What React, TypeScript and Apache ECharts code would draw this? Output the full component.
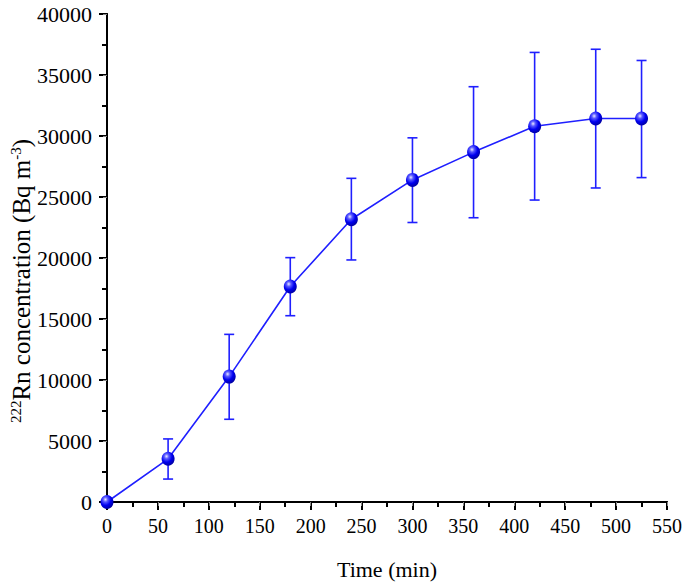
import React, { useEffect, useRef } from "react";
import * as echarts from "echarts";

const times = [0, 60, 120, 180, 240, 300, 360, 420, 480, 525];
const concentration = [0, 3540, 10280, 17660, 23180, 26400, 28680, 30800, 31430, 31430];
const errLow = [0, 1880, 6780, 15270, 19840, 22910, 23300, 24750, 25740, 26590];
const errHigh = [0, 5170, 13740, 20030, 26530, 29850, 34040, 36850, 37110, 36190];

const FONT = "Liberation Serif";
const BLUE = "#1f1fff";

export default function App() {
  const ref = useRef<HTMLDivElement>(null);
  useEffect(() => {
    if (!ref.current) return;
    const chart = echarts.init(ref.current, null, { renderer: "svg" });
    const lineData = times.map((t, i) => [t, concentration[i]]);
    const errData = times
      .map((t, i) => [t, errLow[i], errHigh[i]])
      .filter((d) => d[2] > d[1]);
    const axisCommon = {
      axisLine: { show: true, lineStyle: { color: "#000", width: 2 } },
      splitLine: { show: false },
    };
    chart.setOption({
      animation: false,
      backgroundColor: "#fff",
      grid: { left: 107, top: 14, width: 561, height: 490, containLabel: false },
      graphic: [
        {
          type: "text",
          x: 21,
          y: 281,
          rotation: Math.PI / 2,
          style: {
            text: "{sup|222}{b|Rn concentration (Bq m}{sup|-3}{b|)}",
            align: "center",
            verticalAlign: "middle",
            fill: "#000",
            font: `25px "${FONT}"`,
            rich: {
              b: { fontFamily: FONT, fontSize: 25, fill: "#000" },
              sup: { fontFamily: FONT, fontSize: 15, fill: "#000", verticalAlign: "top", padding: [0, 0, 10, 0] },
            },
          },
        },
      ],
      xAxis: [
        {
          type: "value",
          min: 0,
          max: 550,
          interval: 50,
          position: "bottom",
          ...axisCommon,
          axisTick: { show: true, inside: false, length: 8, lineStyle: { color: "#000", width: 2 } },
          minorTick: { show: true, splitNumber: 2, length: 5, lineStyle: { color: "#000", width: 2 } },
          axisLabel: {
            color: "#000",
            fontFamily: FONT,
            fontSize: 20,
            margin: 14,
            formatter: (v: number) => String(v),
          },
          name: "Time (min)",
          nameLocation: "middle",
          nameGap: 56,
          nameTextStyle: { color: "#000", fontFamily: FONT, fontSize: 22 },
        },
        {
          type: "value",
          min: 0,
          max: 550,
          interval: 50,
          position: "top",
          ...axisCommon,
          axisTick: { show: true, inside: true, length: 4, lineStyle: { color: "#888", width: 1 } },
          minorTick: { show: false },
          axisLabel: { show: false },
        },
      ],
      yAxis: [
        {
          type: "value",
          min: 0,
          max: 40000,
          interval: 5000,
          position: "left",
          ...axisCommon,
          axisTick: { show: true, inside: false, length: 8, lineStyle: { color: "#000", width: 2 } },
          minorTick: { show: true, splitNumber: 2, length: 5, lineStyle: { color: "#000", width: 2 } },
          axisLabel: {
            color: "#000",
            fontFamily: FONT,
            fontSize: 22,
            margin: 15,
            formatter: (v: number) => String(v),
          },
        },
        {
          type: "value",
          min: 0,
          max: 40000,
          interval: 5000,
          position: "right",
          ...axisCommon,
          axisTick: { show: true, inside: true, length: 4, lineStyle: { color: "#888", width: 1 } },
          minorTick: { show: false },
          axisLabel: { show: false },
        },
      ],
      series: [
        {
          type: "custom",
          xAxisIndex: 0,
          yAxisIndex: 0,
          data: errData,
          z: 2,
          renderItem: (params: any, api: any) => {
            const x = api.value(0);
            const lo = api.coord([x, api.value(1)]);
            const hi = api.coord([x, api.value(2)]);
            const cap = 5;
            const style = { stroke: BLUE, lineWidth: 1.6, fill: "none" };
            return {
              type: "group",
              children: [
                { type: "line", shape: { x1: lo[0], y1: lo[1], x2: hi[0], y2: hi[1] }, style },
                { type: "line", shape: { x1: lo[0] - cap, y1: lo[1], x2: lo[0] + cap, y2: lo[1] }, style },
                { type: "line", shape: { x1: hi[0] - cap, y1: hi[1], x2: hi[0] + cap, y2: hi[1] }, style },
              ],
            };
          },
        },
        {
          type: "line",
          xAxisIndex: 0,
          yAxisIndex: 0,
          data: lineData,
          z: 3,
          lineStyle: { color: BLUE, width: 1.6 },
          symbol: "circle",
          symbolSize: [13, 14],
          itemStyle: {
            color: new echarts.graphic.RadialGradient(0.38, 0.32, 0.7, [
              { offset: 0, color: "#e8e8ff" },
              { offset: 0.25, color: "#5a5aff" },
              { offset: 0.6, color: "#0000f0" },
              { offset: 1, color: "#0000a0" },
            ]),
            borderWidth: 0,
          },
        },
      ],
    });
    return () => chart.dispose();
  }, []);
  return (
    <div
      ref={ref}
      style={{ position: "absolute", left: 0, top: 0, width: 685, height: 585 }}
    />
  );
}
